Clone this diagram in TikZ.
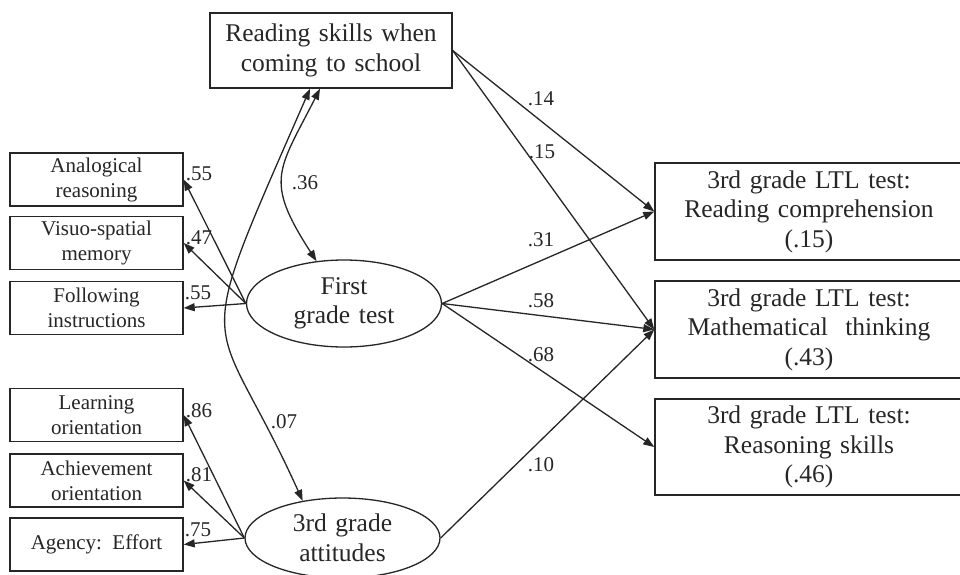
\documentclass[tikz,border=0pt]{standalone}
\usepackage{fontspec}
\setmainfont{Liberation Serif}
\usetikzlibrary{arrows.meta,shapes.geometric}
\definecolor{ink}{HTML}{262626}
\newcommand\bigtext{\fontsize{25.5}{29.5}\selectfont\spaceskip=0.34em plus 0.1em\relax}

\begin{document}
\begin{tikzpicture}[x=1pt,y=-1pt,
  line width=1.3pt, draw=ink, text=ink,
  bigbox/.style={draw, line width=1.4pt, inner sep=0pt, align=center,
    font=\bigtext},
  smallbox/.style={draw, line width=1.4pt, inner sep=0pt, align=center,
    minimum width=173pt, minimum height=53pt,
    font=\fontsize{21}{25}\selectfont},
  latent/.style={draw, ellipse, line width=1.3pt, inner sep=0pt, align=center,
    minimum width=195pt, font=\bigtext},
  coef/.style={inner sep=0pt, font=\fontsize{21}{25}\selectfont},
  path/.style={-{Triangle[length=11pt,width=8pt]}},
  twoway/.style={{Triangle[length=11pt,width=8pt]}-{Triangle[length=11pt,width=8pt]}}]

\useasboundingbox (0,0) rectangle (960,574);
\fill[white] (0,0) rectangle (960,574);

% observed and latent variables
\node[bigbox, minimum width=242pt, minimum height=75pt] (top) at (331,50.5)
  {Reading skills when\\coming to school};

\node[smallbox] (ana) at (96.5,179.5) {Analogical\\reasoning};
\node[smallbox] (vis) at (96.5,243)   {Visuo-spatial\\memory};
\node[smallbox] (fol) at (96.5,308)   {Following\\instructions};
\node[smallbox] (lea) at (96.5,415)   {Learning\\orientation};
\node[smallbox] (ach) at (96.5,480.5) {Achievement\\orientation};
\node[smallbox] (agy) at (96.5,544.5) {Agency:\ \ Effort};

\node[latent, minimum height=87pt] (first) at (344,303.5) {First\\grade test};
\node[latent, minimum height=80pt] (att) at (342.5,538) {3rd grade\\attitudes};

\node[bigbox, minimum width=308pt, minimum height=97pt] (rc) at (809,211.5)
  {3rd grade LTL test:\\Reading comprehension\\(.15)};
\node[bigbox, minimum width=308pt, minimum height=97pt] (mt) at (809,329.5)
  {3rd grade LTL test:\\Mathematical\ \ thinking\\(.43)};
\node[bigbox, minimum width=308pt, minimum height=96pt] (rs) at (809,447)
  {3rd grade LTL test:\\Reasoning skills\\(.46)};

% measurement paths
\draw[path] (first.west) -- (ana.east);
\draw[path] (first.west) -- (vis.east);
\draw[path] (first.west) -- (fol.east);
\draw[path] (att.west) -- (lea.east);
\draw[path] (att.west) -- (ach.east);
\draw[path] (att.west) -- (agy.east);

% correlations
\draw[twoway] ([xshift=-11pt]top.south) .. controls (278,171) and (264,180) .. (first.123);
\draw[twoway] ([xshift=-21pt]top.south) .. controls (186,372) and (212,300) .. (att.137);

% structural paths
\draw[path] (top.east) -- (rc.west);
\draw[path] (top.east) -- (mt.west);
\draw[path] (first.east) -- (rc.west);
\draw[path] (first.east) -- (mt.west);
\draw[path] (first.east) -- (rs.west);
\draw[path] (att.east) -- (mt.west);

% coefficients
\node[coef] (c1) at (199,174)   {.55};
\node[coef] (c2) at (199,237.5) {.47};
\node[coef] (c3) at (198,292.5) {.55};
\node[coef] (c4) at (199,410.5) {.86};
\node[coef] (c5) at (199,475)   {.81};
\node[coef] (c6) at (198,530)   {.75};
\node[coef] (c7) at (305,183)   {.36};
\node[coef] (c8) at (284,421.5) {.07};
\node[coef] (c9) at (541,99)    {.14};
\node[coef] (c10) at (542,152)  {.15};
\node[coef] (c11) at (541,240)  {.31};
\node[coef] (c12) at (541,301)  {.58};
\node[coef] (c13) at (541,355)  {.68};
\node[coef] (c14) at (541,465)  {.10};
\end{tikzpicture}
\end{document}
